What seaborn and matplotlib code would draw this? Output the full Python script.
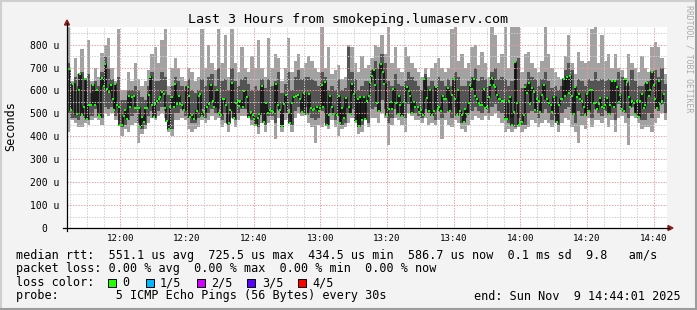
import numpy as np
import pandas as pd
import matplotlib
matplotlib.use("Agg")
import matplotlib.pyplot as plt
from matplotlib.patches import Rectangle, Polygon
from matplotlib.lines import Line2D
import seaborn as sns

# ---------------- data ----------------
# median rtt samples (us): time in minutes after 11:44:01, value
med_time = [
    0.5, 1.2, 1.9, 2.9, 3.5, 3.9, 4.5, 5.2, 5.5, 5.9, 6.5, 7.2, 7.9, 8.4, 8.9, 9.5, 10.0, 10.5, 11.0, 11.5,
    12.0, 12.5, 13.2, 13.7, 14.2, 14.5, 14.9, 15.5, 15.9, 16.5, 17.0, 17.5, 18.0, 18.5, 19.0, 19.5, 20.0, 20.5, 21.0, 21.5,
    22.0, 22.5, 23.0, 23.5, 24.0, 24.5, 25.0, 25.5, 26.0, 26.5, 27.0, 27.5, 28.0, 28.5, 29.0, 29.5, 30.0, 30.5, 31.0, 31.5,
    32.0, 32.5, 33.0, 33.5, 34.0, 34.5, 35.0,
    36.2, 36.5, 36.9, 37.5, 38.2, 38.9, 39.5, 39.9, 40.5, 41.2, 41.9, 42.5, 43.2, 43.7, 44.2, 44.9, 45.5, 46.2, 46.7, 47.2,
    47.7, 48.5, 49.0, 49.5, 50.0, 50.7, 51.2, 51.7, 52.0, 52.7, 53.2, 53.9, 54.7, 55.2, 55.7, 56.2, 56.7, 57.2, 57.7, 58.5,
    59.0, 59.7, 60.4, 61.0, 61.5, 61.9, 62.7, 63.2, 63.9, 64.5, 65.0, 65.7, 66.5, 66.9, 67.5, 68.2, 68.7, 69.4, 70.0, 70.5,
    71.0,
    72.0, 72.5, 73.2, 73.7, 74.2, 74.9, 75.5, 75.9, 76.5, 76.9, 77.5, 77.9, 78.5, 78.9, 79.5, 80.2, 80.9, 81.5, 82.0, 82.5,
    83.2, 83.7, 84.5, 85.0, 85.5, 86.0, 86.7, 87.2, 87.5, 88.0, 88.5, 89.0, 89.5, 90.0, 90.5, 91.0, 91.5, 92.0, 92.5, 92.9,
    93.5, 94.2, 94.7, 95.2, 95.9, 96.5, 97.2, 97.5, 97.9, 98.7, 99.2, 99.5, 100.0, 100.5, 101.2, 102.0, 102.5, 103.0, 103.5, 104.0,
    104.5, 105.2, 105.7, 106.2, 106.7, 107.2,
    108.0, 108.5, 108.9, 109.5, 110.2, 110.7, 111.2, 111.7, 112.2, 112.7, 113.2, 113.7, 114.2, 114.9, 115.5, 116.0, 116.5, 116.9, 117.4, 118.0,
    118.5, 119.0, 119.5, 119.9, 120.5, 121.0, 121.5, 122.0, 122.5, 123.0, 123.5, 124.0, 124.5, 125.0, 125.5, 126.0, 126.5, 127.0, 127.5, 128.0,
    128.5, 129.0, 129.5, 130.0, 130.5, 131.0, 131.5, 132.0, 132.5, 133.0, 133.5, 134.0, 134.5, 135.0, 135.5, 136.0, 136.5, 137.0, 137.5, 138.0,
    138.5, 139.0, 139.5, 140.0, 140.5, 141.0, 141.5, 142.0, 142.5, 143.0,
    144.0, 144.5, 145.2, 145.5, 146.2, 146.9, 147.5, 148.2, 148.5, 149.0, 149.5, 150.0, 150.5, 151.0, 151.5, 152.0, 152.5, 153.0, 153.5, 154.0,
    154.5, 155.0, 155.5, 156.0, 156.5, 157.0, 157.5, 158.0, 158.5, 159.0, 159.5, 160.0, 160.5, 161.0, 161.5, 162.0, 162.5, 163.0, 163.5, 164.0,
    164.5, 165.0, 165.5, 166.0, 166.5, 167.0, 167.5, 168.0, 168.5, 169.0, 169.5, 170.0, 170.5, 171.0, 171.5, 172.0, 172.5, 173.0, 173.5, 174.0,
    174.5, 175.0, 175.5, 176.0, 176.5, 177.0, 177.5, 178.0, 178.5, 179.0,
]
med_rtt = [
    694, 513, 629, 499, 600, 672, 491, 530, 651, 477, 535, 535, 622, 535, 603, 491, 484, 654, 619, 716,
    607, 593, 622, 561, 513, 629, 538, 528, 448, 451, 488, 513, 477, 575, 528, 571, 578, 523, 523, 524,
    441, 484, 462, 523, 523, 581, 658, 538, 484, 542, 556, 564, 571, 593, 586, 523, 465, 433, 530, 571,
    528, 629, 542, 578, 542, 538, 513,
    614, 578, 484, 491, 477, 509, 578, 586, 488, 506, 527, 542, 622, 556, 527, 603, 503, 491, 564, 561,
    535, 460, 516, 632, 480, 546, 552, 532, 556, 527, 596, 570, 484, 506, 494, 477, 448, 480, 499, 619,
    462, 545, 503, 513, 509, 506, 629, 535, 513, 446, 541, 581, 506, 460, 546, 573, 576, 581, 561, 506,
    588,
    499, 586, 523, 517, 520, 527, 509, 523, 624, 527, 639, 448, 494, 575, 527, 499, 491, 575, 460, 523,
    480, 567, 527, 499, 629, 586, 465, 561, 446, 571, 470, 571, 474, 556, 578, 636, 665, 691, 624, 545,
    509, 716, 680, 629, 491, 520, 549, 520, 607, 546, 499, 575, 535, 488, 549, 614, 598, 578, 503, 549,
    527, 529, 506, 517, 491, 651,
    567, 509, 600, 494, 509, 614, 520, 527, 509, 574, 561, 564, 610, 509, 581, 648, 564, 494, 600, 509,
    491, 462, 520, 499, 546, 622, 607, 651, 578, 561, 546, 535, 535, 607, 523, 527, 571, 624, 655, 624,
    614, 581, 564, 561, 555, 552, 477, 474, 556, 571, 448, 506, 723, 545, 451, 460, 462, 494, 614, 590,
    633, 541, 610, 593, 513, 561, 552, 506, 581, 622,
    561, 546, 535, 506, 571, 462, 535, 561, 561, 648, 578, 658, 590, 665, 575, 499, 614, 571, 586, 561,
    556, 527, 491, 586, 509, 600, 600, 546, 546, 520, 542, 567, 527, 523, 538, 567, 499, 538, 643, 527,
    643, 614, 549, 581, 520, 509, 651, 636, 571, 527, 552, 546, 499, 552, 484, 556, 586, 523, 535, 633,
    578, 600, 680, 622, 561, 523, 643, 542, 556, 586,
]

# smoke (one value per minute, start 11:44:01)
max_rtt = [
    880, 640, 740, 670, 780, 640, 820, 640, 700, 660, 765, 800,
    830, 700, 640, 870, 600, 600, 680, 640, 720, 650, 620, 640,
    690, 760, 790, 720, 820, 870, 620, 700, 740, 700, 660, 640,
    700, 680, 640, 660, 870, 700, 800, 720, 690, 870, 720, 840,
    660, 870, 720, 680, 790, 700, 680, 750, 700, 820, 700, 660,
    830, 700, 760, 740, 640, 700, 830, 680, 730, 760, 700, 720,
    750, 730, 700, 680, 880, 700, 790, 670, 690, 710, 650, 660,
    800, 790, 720, 680, 750, 700, 710, 740, 800, 790, 840, 760,
    880, 720, 790, 700, 680, 790, 750, 720, 700, 680, 660, 700,
    660, 700, 720, 740, 700, 680, 700, 870, 880, 730, 760, 700,
    720, 790, 800, 710, 770, 720, 660, 880, 840, 720, 760, 880,
    700, 880, 880, 880, 680, 760, 770, 720, 700, 680, 730, 880,
    760, 700, 680, 660, 650, 750, 840, 720, 670, 770, 730, 720,
    730, 870, 880, 720, 840, 730, 760, 700, 760, 700, 690, 650,
    760, 720, 700, 680, 750, 700, 680, 790, 810, 790, 740, 670,
]
upper_rtt = [
    720, 600, 660, 620, 680, 600, 670, 590, 640, 620, 680, 750,
    700, 650, 610, 660, 560, 560, 600, 600, 620, 600, 570, 560,
    620, 680, 640, 640, 680, 660, 580, 620, 660, 640, 620, 600,
    650, 600, 590, 600, 650, 620, 660, 670, 620, 700, 640, 650,
    600, 700, 640, 620, 650, 660, 630, 600, 620, 600, 650, 610,
    650, 620, 640, 680, 590, 630, 680, 600, 660, 690, 650, 660,
    660, 650, 640, 620, 680, 660, 600, 620, 600, 650, 600, 610,
    790, 680, 650, 600, 620, 640, 640, 690, 730, 700, 760, 720,
    640, 620, 670, 630, 620, 640, 680, 660, 640, 620, 600, 670,
    620, 640, 620, 660, 640, 620, 650, 620, 680, 660, 620, 620,
    640, 660, 700, 640, 660, 650, 620, 680, 700, 650, 660, 650,
    620, 640, 720, 740, 610, 630, 680, 660, 650, 620, 650, 680,
    640, 610, 620, 600, 620, 690, 720, 690, 600, 650, 640, 620,
    650, 640, 680, 640, 650, 640, 650, 640, 620, 680, 660, 620,
    620, 690, 640, 620, 620, 630, 640, 650, 690, 660, 700, 630,
]
lower_rtt = [
    500, 480, 480, 470, 490, 480, 470, 490, 520, 490, 480, 530,
    520, 530, 490, 500, 440, 450, 470, 490, 500, 460, 430, 450,
    490, 510, 480, 510, 530, 510, 450, 430, 500, 500, 520, 490,
    480, 460, 460, 480, 520, 480, 500, 520, 500, 520, 470, 500,
    450, 510, 470, 500, 520, 520, 510, 470, 470, 440, 500, 450,
    490, 490, 460, 520, 440, 500, 520, 450, 510, 530, 520, 530,
    500, 480, 470, 480, 510, 500, 450, 500, 470, 490, 450, 460,
    500, 520, 500, 440, 450, 510, 460, 520, 530, 510, 560, 520,
    460, 480, 520, 500, 490, 480, 540, 520, 500, 490, 480, 520,
    500, 490, 470, 510, 480, 500, 510, 480, 530, 500, 460, 480,
    500, 510, 530, 510, 500, 520, 500, 530, 540, 510, 500, 480,
    460, 480, 440, 480, 450, 450, 500, 510, 500, 480, 500, 520,
    500, 470, 490, 450, 500, 520, 530, 500, 460, 510, 490, 490,
    520, 480, 520, 500, 490, 510, 500, 500, 470, 540, 520, 500,
    480, 530, 510, 490, 470, 470, 500, 480, 520, 510, 540, 500,
]
min_rtt = [
    420, 470, 460, 440, 440, 460, 450, 470, 480, 470, 450, 500,
    490, 500, 470, 470, 400, 430, 420, 450, 460, 370, 410, 430,
    460, 480, 470, 490, 500, 480, 420, 400, 470, 470, 480, 470,
    430, 420, 430, 440, 470, 460, 470, 490, 470, 480, 440, 460,
    420, 480, 440, 470, 490, 490, 480, 450, 450, 410, 460, 420,
    460, 470, 390, 480, 420, 470, 480, 420, 480, 500, 490, 500,
    460, 440, 370, 450, 440, 460, 430, 470, 440, 400, 430, 440,
    460, 480, 460, 410, 420, 470, 440, 480, 480, 460, 500, 480,
    360, 450, 480, 470, 450, 420, 500, 490, 470, 470, 460, 480,
    450, 460, 450, 470, 390, 470, 450, 440, 470, 460, 430, 420,
    450, 470, 490, 480, 470, 490, 470, 490, 500, 480, 460, 420,
    430, 420, 430, 440, 420, 430, 440, 470, 460, 440, 460, 470,
    460, 440, 460, 420, 460, 480, 470, 440, 420, 370, 450, 430,
    480, 440, 470, 470, 460, 480, 440, 470, 420, 480, 490, 460,
    360, 490, 480, 460, 430, 440, 440, 420, 460, 480, 500, 470,
]

x_tick_labels = ["12:00", "12:20", "12:40", "13:00", "13:20",
                 "13:40", "14:00", "14:20", "14:40"]
y_tick_values = [0, 100, 200, 300, 400, 500, 600, 700, 800]
y_tick_labels = ["0  ", "100 u", "200 u", "300 u", "400 u",
                 "500 u", "600 u", "700 u", "800 u"]
loss_labels = ["0", "1/5", "2/5", "3/5", "4/5"]
loss_colors = ["#22ff00", "#00b8ff", "#d400ff", "#5a00ff", "#ff0000"]

title = "Last 3 Hours from smokeping.lumaserv.com"
legend_lines = [
    "median rtt:  551.1 us avg  725.5 us max  434.5 us min  586.7 us now  0.1 ms sd  9.8   am/s",
    "packet loss: 0.00 % avg  0.00 % max  0.00 % min  0.00 % now",
]
probe_text = "probe:        5 ICMP Echo Pings (56 Bytes) every 30s"
end_text = "end: Sun Nov  9 14:44:01 2025"

# ---------------- figure ----------------
plt.rcParams["font.family"] = ["DejaVu Sans Mono"]
W, H = 697, 310
BG = "#f3f3f3"
fig = plt.figure(figsize=(W / 100, H / 100), dpi=100, facecolor=BG)


def fx(x):
    return x / W


def fy(y):
    return 1 - y / H


L, R, T, B = 67, 667, 27, 228
ax = fig.add_axes([fx(L), fy(B), (R - L) / W, (B - T) / H])
ax.set_facecolor("white")

n = len(max_rtt)
edges = np.arange(n + 1)


def ext(a):
    a = list(a)
    return np.array(a + [a[-1]])


light = "#a2a2a2"
dark = "#545454"
ax.fill_between(edges, ext(min_rtt), ext(lower_rtt), step="post", color=light, lw=0, zorder=1)
ax.fill_between(edges, ext(lower_rtt), ext(upper_rtt), step="post", color=dark, lw=0, zorder=1)
ax.fill_between(edges, ext(upper_rtt), ext(max_rtt), step="post", color=light, lw=0, zorder=1)

df_med = pd.DataFrame({"t": med_time, "med": med_rtt})
sns.lineplot(data=df_med, x="t", y="med", estimator=None, sort=False,
             drawstyle="steps-mid", color="#111111", lw=1.2, ax=ax, zorder=2)
sns.scatterplot(data=df_med, x="t", y="med", marker="s", s=3.2, color="#10ff00",
                linewidth=0, ax=ax, zorder=4)

ax.set_xlim(0, n)
ax.set_ylim(0, 877)

start_off = 15 + 59 / 60  # 12:00 is 15m59s after start
major_x = [start_off + 20 * i for i in range(len(x_tick_labels))]
minor_x = list(np.arange(start_off - 15, n, 5))
ax.set_xticks(major_x)
ax.set_xticklabels(x_tick_labels, fontsize=6.6)
ax.set_xticks(minor_x, minor=True)
ax.set_yticks(y_tick_values)
ax.set_yticklabels(y_tick_labels, fontsize=7)
ax.set_yticks(np.arange(50, 877, 100), minor=True)
ax.tick_params(axis="both", which="both", length=0)
ax.tick_params(axis="x", pad=4.2)
ax.tick_params(axis="y", pad=5.6)
ax.set_xlabel("")
ax.set_ylabel("")

ax.set_axisbelow(False)
ax.grid(which="minor", color="#cdcdcd", lw=0.7, ls=(0, (1.4, 1.4)))
ax.grid(which="major", color="#f09a9a", lw=0.7, ls=(0, (1.4, 1.4)))
for s in ["top", "right", "left", "bottom"]:
    ax.spines[s].set_visible(False)

# axis lines with arrows
fig.add_artist(Line2D([fx(63), fx(669)], [fy(228), fy(228)], color="black", lw=0.9))
fig.add_artist(Line2D([fx(67), fx(67)], [fy(231), fy(23)], color="black", lw=0.9))
arrow_c = "#8a1f1f"
fig.add_artist(Polygon([[fx(64.5), fy(25)], [fx(69.5), fy(25)], [fx(67), fy(20)]],
                       closed=True, color=arrow_c, transform=fig.transFigure))
fig.add_artist(Polygon([[fx(668), fy(225.5)], [fx(668), fy(230.5)], [fx(673), fy(228)]],
                       closed=True, color=arrow_c, transform=fig.transFigure))

# texts
fig.text(fx(348.5), fy(19), title, ha="center", va="center", fontsize=9.6, color="black")
fig.text(fx(11), fy(126), "Seconds", rotation=90, ha="center", va="center", fontsize=8.5)
fig.text(fx(689), fy(59), "RRDTOOL / TOBI OETIKER", rotation=270, ha="center",
         va="center", fontsize=5.9, color="#aaaaaa")

fs = 8.5
fig.text(fx(16), fy(255), legend_lines[0], ha="left", va="center", fontsize=fs)
fig.text(fx(16), fy(268.7), legend_lines[1], ha="left", va="center", fontsize=fs)
fig.text(fx(16), fy(282.5), "loss color:", ha="left", va="center", fontsize=fs)
box_x = [108, 146, 197, 247, 298]
lab_x = [122, 160, 211, 262, 312]
for bx, lx, lab, col in zip(box_x, lab_x, loss_labels, loss_colors):
    fig.add_artist(Rectangle((fx(bx), fy(286.5)), 8 / W, 8 / H, facecolor=col,
                             edgecolor="black", lw=0.7, transform=fig.transFigure))
    fig.text(fx(lx), fy(282.5), lab, ha="left", va="center", fontsize=fs)
fig.text(fx(16), fy(296), probe_text, ha="left", va="center", fontsize=fs)
fig.text(fx(681), fy(296), end_text, ha="right", va="center", fontsize=fs)

# frame
fig.add_artist(Line2D([0, 1], [fy(1), fy(1)], color="#cfcfcf", lw=1.5))
fig.add_artist(Line2D([fx(1), fx(1)], [0, 1], color="#cfcfcf", lw=1.5))
fig.add_artist(Line2D([0, 1], [fy(309), fy(309)], color="#9c9c9c", lw=1.5))
fig.add_artist(Line2D([fx(696), fx(696)], [0, 1], color="#9c9c9c", lw=1.5))

fig.savefig("out.png", dpi=100, facecolor=BG)
